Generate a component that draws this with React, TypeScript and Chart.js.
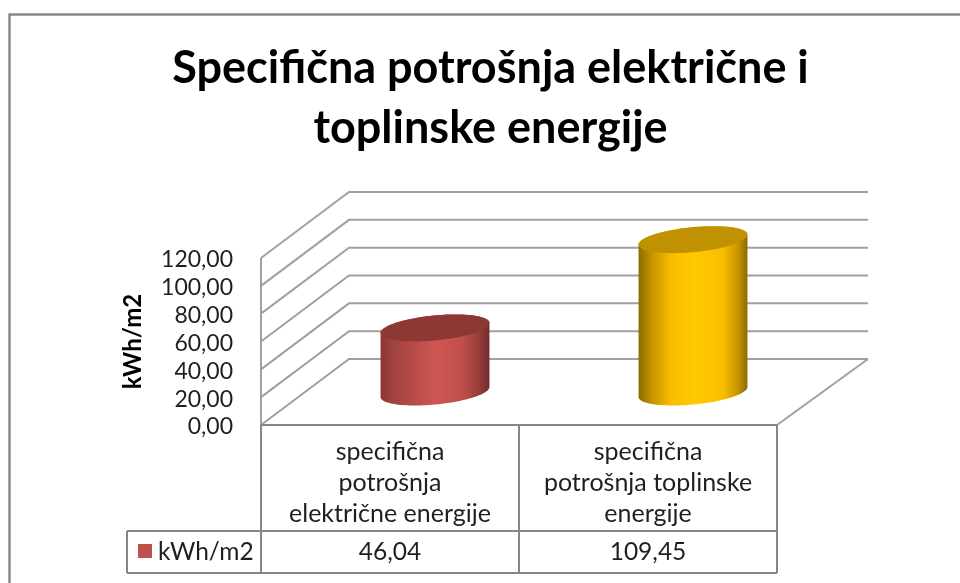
import { useEffect, useRef } from "react";
import { Chart, registerables } from "chart.js";

Chart.register(...registerables);

const titleLines = ["Specifična potrošnja električne i", "toplinske energije"];
const categories = [
  ["specifična", "potrošnja", "električne energije"],
  ["specifična", "potrošnja toplinske", "energije"],
];
const seriesName = "kWh/m2";
const seriesValues = [46.04, 109.45];
const legendColor = "#c0504d";
const sideStops = [
  [[0, "#8a3735"], [0.12, "#a04240"], [0.3, "#b84b49"], [0.5, "#cf5552"], [0.75, "#c04f4c"], [0.9, "#963d3b"], [1, "#6f2c2a"]],
  [[0, "#8c6b00"], [0.12, "#c49400"], [0.3, "#fbbc00"], [0.52, "#ffca00"], [0.78, "#fbbc00"], [0.92, "#c29200"], [1, "#8a6900"]],
];
const topColors = ["#8e3836", "#c09100"];

const FONT = "Lato, Carlito, 'Open Sans', sans-serif";
const TEXT = "#1f1f1f";
const GRID = "#a0a0a0";
const TABLE = "#868686";
const fmt = (v: number) => v.toFixed(2).replace(".", ",");

const DEPTH_X = 88;
const DEPTH_Y = -66;

const scene = {
  id: "scene",
  beforeDatasetsDraw(chart: any) {
    const { ctx, chartArea: a, scales } = chart;
    const y = scales.y;
    ctx.save();
    ctx.strokeStyle = GRID;
    ctx.lineWidth = 2;
    y.ticks.forEach((t: any) => {
      const py = y.getPixelForValue(t.value);
      ctx.beginPath();
      ctx.moveTo(a.left, py);
      ctx.lineTo(a.left + DEPTH_X, py + DEPTH_Y);
      ctx.lineTo(a.right + DEPTH_X + 3, py + DEPTH_Y);
      ctx.stroke();
    });
    ctx.beginPath();
    ctx.moveTo(a.right, a.bottom);
    ctx.lineTo(a.right + DEPTH_X + 3, a.bottom + DEPTH_Y);
    ctx.stroke();
    ctx.beginPath();
    ctx.moveTo(a.left, a.top);
    ctx.lineTo(a.left, a.bottom);
    ctx.stroke();
    ctx.restore();
  },
  afterDatasetsDraw(chart: any) {
    const { ctx, chartArea: a } = chart;
    const meta = chart.getDatasetMeta(0);
    const base = a.bottom + DEPTH_Y / 2;
    meta.data.forEach((bar: any, i: number) => {
      const cx = bar.x + DEPTH_X / 2 + 1;
      const top = bar.y + DEPTH_Y / 2;
      const hw = bar.width / 2;
      const vy = 13.5;
      const lift = 5;
      const vx = (hw * lift) / vy;
      const ux = Math.sqrt(hw * hw - vx * vx);
      const at = (t: number, cy: number): [number, number] => [
        cx + ux * Math.cos(t) + vx * Math.sin(t),
        cy - vy * Math.sin(t),
      ];
      const t0 = Math.atan2(vx, ux);
      const grad = ctx.createLinearGradient(cx - hw, 0, cx + hw, 0);
      (sideStops[i] as any[]).forEach(([p, c]) => grad.addColorStop(p, c));
      ctx.save();
      ctx.beginPath();
      let p = at(t0, top);
      ctx.moveTo(p[0], p[1]);
      for (let k = 0; k <= 60; k++) {
        p = at(t0 - (Math.PI * k) / 60, base);
        ctx.lineTo(p[0], p[1]);
      }
      for (let k = 0; k <= 60; k++) {
        p = at(t0 - Math.PI - (Math.PI * k) / 60, top);
        ctx.lineTo(p[0], p[1]);
      }
      ctx.closePath();
      ctx.fillStyle = grad;
      ctx.fill();
      ctx.beginPath();
      for (let k = 0; k <= 120; k++) {
        p = at((2 * Math.PI * k) / 120, top);
        if (k === 0) ctx.moveTo(p[0], p[1]);
        else ctx.lineTo(p[0], p[1]);
      }
      ctx.closePath();
      ctx.fillStyle = topColors[i];
      ctx.fill();
      ctx.restore();
    });
  },
  afterDraw(chart: any) {
    const { ctx, chartArea: a, scales, width, height } = chart;
    const x = scales.x;
    const mid = (x.getPixelForTick(0) + x.getPixelForTick(1)) / 2;
    const rowTop = 531;
    const rowBottom = 573;
    const tableLeft = 127;
    ctx.save();
    // outer frame of the chart: only its top and left edges fall inside the picture
    ctx.strokeStyle = "#868686";
    ctx.lineWidth = 2.4;
    ctx.beginPath();
    ctx.moveTo(9.5, height + 4);
    ctx.lineTo(9.5, 14.5);
    ctx.lineTo(width + 4, 14.5);
    ctx.stroke();
    // data table
    ctx.strokeStyle = TABLE;
    ctx.lineWidth = 2;
    ctx.beginPath();
    ctx.moveTo(a.left, a.bottom);
    ctx.lineTo(a.right, a.bottom);
    [a.left, mid, a.right].forEach((px: number) => {
      ctx.moveTo(px, a.bottom);
      ctx.lineTo(px, rowBottom);
    });
    ctx.moveTo(tableLeft, rowTop);
    ctx.lineTo(a.right, rowTop);
    ctx.moveTo(tableLeft, rowBottom);
    ctx.lineTo(a.right, rowBottom);
    ctx.moveTo(tableLeft, rowTop);
    ctx.lineTo(tableLeft, rowBottom);
    ctx.stroke();
    ctx.fillStyle = legendColor;
    ctx.fillRect(138, 544, 14, 14);
    ctx.fillStyle = TEXT;
    ctx.font = `24.5px ${FONT}`;
    ctx.textBaseline = "middle";
    ctx.textAlign = "left";
    ctx.fillText(seriesName, 158, 552);
    ctx.textAlign = "center";
    seriesValues.forEach((v, i) => ctx.fillText(fmt(v), x.getPixelForTick(i), 552));
    ctx.restore();
  },
};

export default function App() {
  const ref = useRef<HTMLCanvasElement>(null);
  useEffect(() => {
    const chart = new Chart(ref.current!, {
      type: "bar",
      data: {
        labels: categories as any,
        datasets: [
          {
            label: seriesName,
            data: seriesValues,
            backgroundColor: "rgba(0,0,0,0)",
            barPercentage: 0.422,
            categoryPercentage: 1,
          },
        ],
      },
      options: {
        responsive: false,
        animation: false,
        layout: { padding: { left: 122, right: 101, top: 0, bottom: 0 } },
        plugins: {
          legend: { display: false },
          tooltip: { enabled: false },
          title: {
            display: true,
            text: titleLines,
            color: "#000000",
            font: { family: FONT, size: 45, weight: "bold", lineHeight: "60px" },
            padding: { top: 38, bottom: 100 },
          },
        },
        scales: {
          x: {
            grid: { display: false },
            border: { display: false },
            afterFit(s: any) {
              s.height = 158;
            },
            ticks: {
              color: TEXT,
              autoSkip: false,
              maxRotation: 0,
              padding: 3,
              font: { family: FONT, size: 25, lineHeight: "31px" },
            },
          },
          y: {
            min: 0,
            max: 120,
            grid: { display: false },
            border: { display: false },
            afterFit(s: any) {
              s.width = 139;
            },
            title: {
              display: true,
              text: seriesName,
              color: "#000000",
              padding: { top: -3, bottom: 0 },
              font: { family: FONT, size: 24, weight: "bold" },
            },
            ticks: {
              stepSize: 20,
              autoSkip: false,
              color: TEXT,
              padding: 20,
              labelOffset: 2,
              font: { family: FONT, size: 23 },
              callback: (v: any) => fmt(Number(v)),
            },
          },
          // empty strip on the right: holds the depth of the 3D floor
          depth: {
            position: "right",
            grid: { display: false },
            border: { display: false },
            ticks: { display: false },
            afterFit(s: any) {
              s.width = 82;
            },
          },
        },
      },
      plugins: [scene],
    });
    return () => chart.destroy();
  }, []);
  return (
    <div style={{ position: "fixed", left: 0, top: 0, width: 960, height: 583, background: "#ffffff" }}>
      <canvas ref={ref} width={960} height={583} style={{ display: "block", filter: "blur(0.5px)" }} />
    </div>
  );
}
